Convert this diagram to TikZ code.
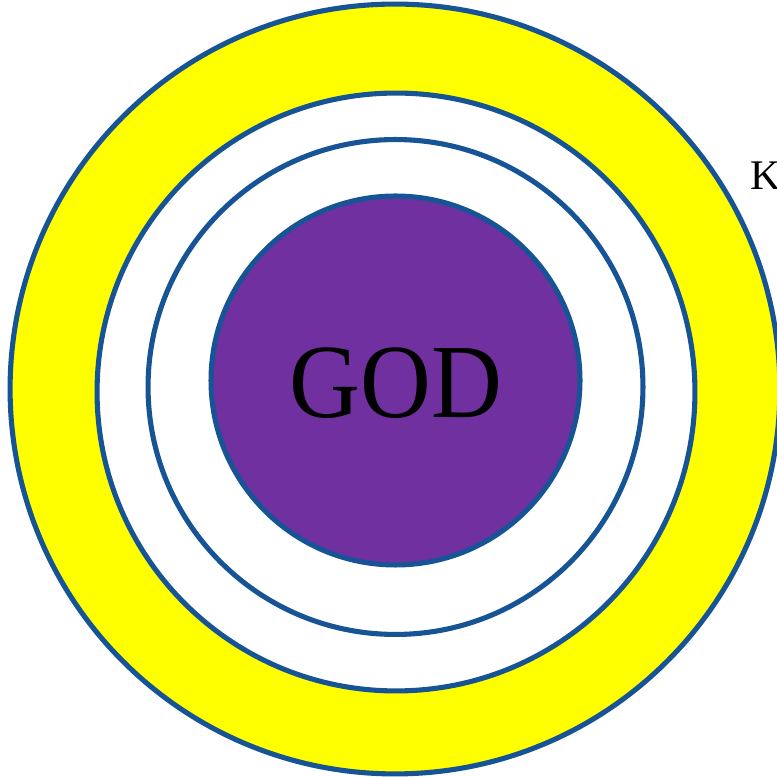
\documentclass[tikz,border=0pt]{standalone}
\usepackage{fontspec}
\setmainfont{Liberation Serif}
\usepackage{xcolor}
\usetikzlibrary{positioning}
\definecolor{ringblue}{RGB}{22,84,150}
\definecolor{godpurple}{RGB}{112,48,160}
\definecolor{glow}{RGB}{255,255,0}

\begin{document}
\begin{tikzpicture}[x=0.02cm,y=0.02cm,
every node/.style={font=\Large}, ring/.style={draw=ringblue,line width=2.9pt,circle,
inner sep=0pt}]
\clip (0,0) rectangle (777,777);
\fill[white] (0,0) rectangle (777,777);

% outer yellow band, then the white rings inside it
\node[ring,fill=glow,minimum size=15.4cm] (outer) at (395,388) {};
\node[ring,fill=white,minimum size=11.96cm] (middle) at (396,385) {};
\node[ring,minimum size=9.9cm] (inner) at (395.5,390) {};
\node[ring,fill=godpurple,minimum size=7.38cm] (core) at (395.5,396.5) {};
\node[font=\fontsize{60}{72}\selectfont,xscale=0.93] (god) at (396,394) {GOD};

\node[anchor=base west,inner sep=0pt,font=\fontsize{24}{28}\selectfont] (label) at (750,587) {KI};
\end{tikzpicture}
\end{document}
